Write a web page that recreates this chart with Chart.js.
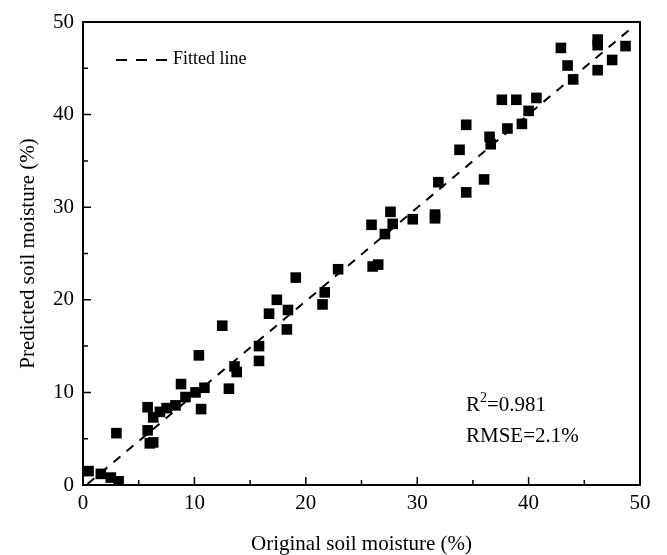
<!DOCTYPE html>
<html>
<head>
<meta charset="utf-8">
<script src="https://cdn.jsdelivr.net/npm/chart.js@4.4.1/dist/chart.umd.min.js"></script>
<style>
  html, body { margin: 0; padding: 0; background: #fff; }
  #wrap { width: 667px; height: 555px; }
</style>
</head>
<body>
<div id="wrap"><canvas id="scatterChart"></canvas></div>
<script>
// measured vs predicted soil moisture (%)
const originalSM = [0.5, 1.6, 2.5, 3.2, 3.0, 5.8, 5.8, 6.0, 6.3, 6.3, 6.9, 7.5, 8.3, 8.8, 9.2,
  10.1, 10.4, 10.6, 10.9, 12.5, 13.1, 13.6, 13.8, 15.8, 15.8, 16.7, 17.4, 18.4, 18.3, 19.1,
  21.5, 21.7, 22.9, 25.9, 26.0, 26.5, 27.1, 27.6, 27.8, 29.6, 31.6, 31.6, 31.9, 33.8, 34.4,
  34.4, 36.0, 36.5, 36.6, 37.6, 38.1, 38.9, 39.4, 40.0, 40.7, 42.9, 43.5, 44.0, 46.2, 46.2,
  46.2, 47.5, 48.7];
const predictedSM = [1.5, 1.2, 0.8, 0.4, 5.6, 8.4, 5.9, 4.5, 4.6, 7.3, 7.9, 8.3, 8.6, 10.9, 9.5,
  10.0, 14.0, 8.2, 10.5, 17.2, 10.4, 12.8, 12.2, 15.0, 13.4, 18.5, 20.0, 18.9, 16.8, 22.4,
  19.5, 20.8, 23.3, 28.1, 23.6, 23.8, 27.1, 29.5, 28.2, 28.7, 29.2, 28.8, 32.7, 36.2, 38.9,
  31.6, 33.0, 37.6, 36.8, 41.6, 38.5, 41.6, 39.0, 40.4, 41.8, 47.2, 45.3, 43.8, 48.1, 47.5,
  44.8, 45.9, 47.4];
const fitX = [0.4, 49];
const fitY = [0.1, 49.1];
const axisTicks = [0, 10, 20, 30, 40, 50];

const serif = '"Liberation Serif", "Times New Roman", serif';

const framePlugin = {
  id: 'frame',
  afterDatasetsDraw(chart) {
    const ctx = chart.ctx;
    const a = chart.chartArea;
    const xs = chart.scales.x, ys = chart.scales.y;
    ctx.save();
    ctx.strokeStyle = '#000';
    ctx.lineWidth = 2;
    ctx.strokeRect(a.left, a.top, a.right - a.left, a.bottom - a.top);
    ctx.lineWidth = 1.5;
    ctx.beginPath();
    xs.ticks.forEach(t => {
      const px = xs.getPixelForValue(t.value);
      const len = axisTicks.includes(t.value) ? 8 : 5;
      ctx.moveTo(px, a.bottom);
      ctx.lineTo(px, a.bottom - len);
    });
    ys.ticks.forEach(t => {
      const py = ys.getPixelForValue(t.value);
      const len = axisTicks.includes(t.value) ? 8 : 5;
      ctx.moveTo(a.left, py);
      ctx.lineTo(a.left + len, py);
    });
    ctx.stroke();

    // legend
    ctx.setLineDash([11, 9]);
    ctx.lineWidth = 2;
    ctx.beginPath();
    ctx.moveTo(116, 60);
    ctx.lineTo(170, 60);
    ctx.stroke();
    ctx.setLineDash([]);
    ctx.fillStyle = '#000';
    ctx.textBaseline = 'middle';
    ctx.font = '18px ' + serif;
    ctx.fillText('Fitted line', 173, 59);

    // stats
    ctx.font = '21px ' + serif;
    ctx.fillText('R', 466, 405);
    const rw = ctx.measureText('R').width;
    ctx.font = '14px ' + serif;
    ctx.fillText('2', 466 + rw, 398);
    const sw = ctx.measureText('2').width;
    ctx.font = '21px ' + serif;
    ctx.fillText('=0.981', 466 + rw + sw, 405);
    ctx.fillText('RMSE=2.1%', 466, 436);
    ctx.restore();
  }
};

new Chart(document.getElementById('scatterChart'), {
  type: 'scatter',
  data: {
    datasets: [{
      label: 'Samples',
      data: originalSM.map((x, i) => ({ x: x, y: predictedSM[i] })),
      pointStyle: 'rect',
      pointRadius: 7.5,
      pointBackgroundColor: '#000',
      pointBorderWidth: 0
    }, {
      label: 'Fitted line',
      type: 'line',
      data: fitX.map((x, i) => ({ x: x, y: fitY[i] })),
      borderColor: '#000',
      borderWidth: 2,
      borderDash: [9, 8],
      pointRadius: 0,
      fill: false
    }]
  },
  options: {
    responsive: true,
    maintainAspectRatio: false,
    animation: false,
    layout: { padding: { top: 22, right: 27, bottom: 0, left: 0 } },
    plugins: {
      legend: { display: false },
      tooltip: { enabled: false }
    },
    scales: {
      x: {
        type: 'linear',
        min: 0, max: 50,
        border: { display: false },
        grid: { display: false, drawTicks: false },
        ticks: {
          stepSize: 5,
          padding: 6,
          color: '#000',
          font: { family: serif, size: 21 },
          callback: v => axisTicks.includes(v) ? v : ''
        },
        title: {
          display: true,
          text: 'Original soil moisture (%)',
          color: '#000',
          font: { family: serif, size: 21, lineHeight: 1 },
          padding: { top: 0, bottom: 0 }
        },
        afterFit: s => { s.height = 70; }
      },
      y: {
        type: 'linear',
        min: 0, max: 50,
        border: { display: false },
        grid: { display: false, drawTicks: false },
        ticks: {
          stepSize: 5,
          padding: 9,
          color: '#000',
          font: { family: serif, size: 21 },
          callback: v => axisTicks.includes(v) ? v : ''
        },
        title: {
          display: true,
          text: 'Predicted soil moisture (%)',
          color: '#000',
          font: { family: serif, size: 21 },
          padding: { top: 16, bottom: 0 }
        },
        afterFit: s => { s.width = 83; }
      }
    }
  },
  plugins: [framePlugin]
});
</script>
</body>
</html>
